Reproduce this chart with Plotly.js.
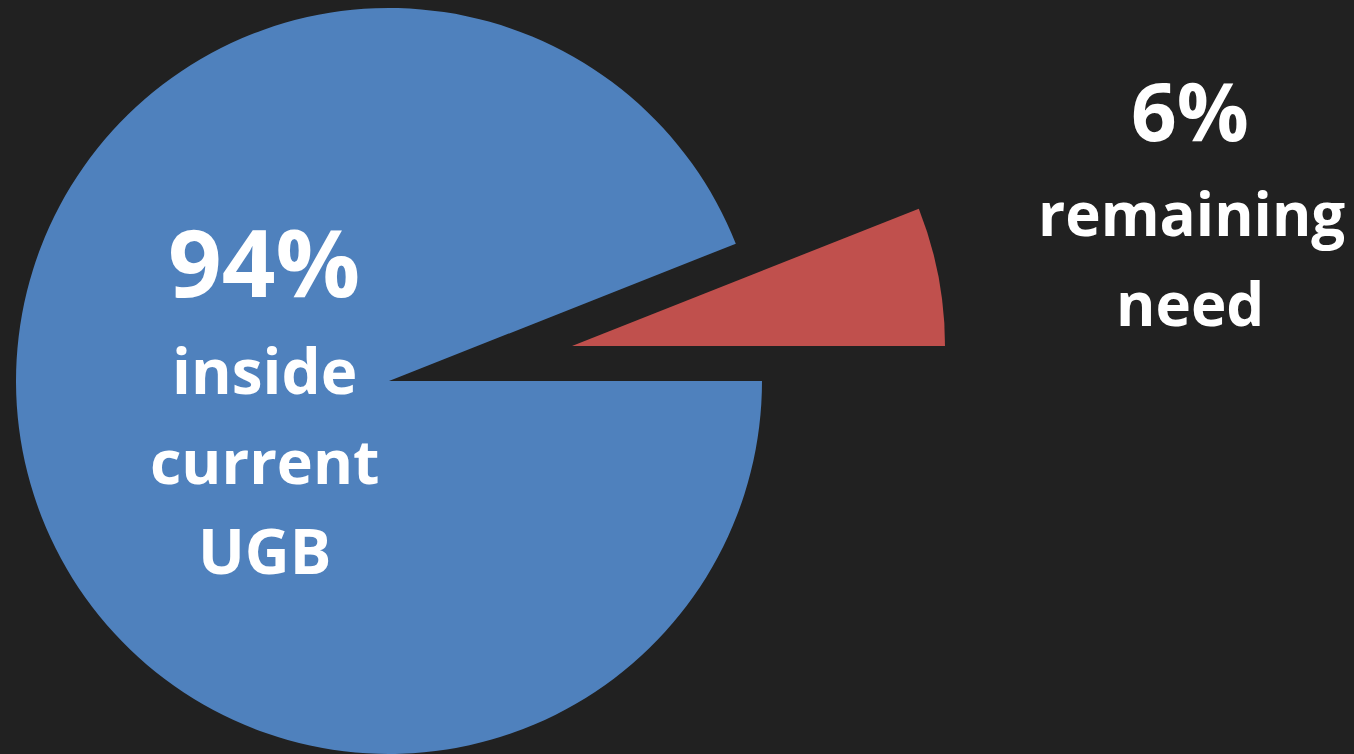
<!DOCTYPE html>
<html>
<head>
<meta charset="utf-8">
<script src="https://cdn.plot.ly/plotly-3.0.1.min.js"></script>
<style>
  html, body { margin: 0; padding: 0; overflow: hidden; background: #212121; width: 1354px; height: 754px; }
  #chart { position: absolute; left: 0; top: -27px; width: 1354px; height: 781px; }
</style>
</head>
<body>
<div id="chart"></div>
<script>
// Data
const categories = ['inside current UGB', 'remaining need'];
const values = [94, 6];
const sliceColors = ['#4F81BD', '#C0504D'];
const bigLabels = ['94%', '6%'];
const smallLabels = [['inside', 'current', 'UGB'], ['remaining', 'need']];

// Layout helpers (pixel geometry of the page)
const W = 1354, H = 781, OFF = 27;
const px = x => x / W;
const py = y => 1 - (y + OFF) / H;
const clear = 'rgba(0,0,0,0)';

// Main (blue) pie, the pulled-out slice left empty
const mainTrace = {
  type: 'pie', labels: categories, values: values, sort: false,
  direction: 'counterclockwise', rotation: 90,
  marker: { colors: [sliceColors[0], clear], line: { width: 0 } },
  textinfo: 'none', hoverinfo: 'skip', showlegend: false,
  domain: { x: [px(16), px(762)], y: [py(754), py(8)] }
};
// Exploded (red) slice drawn as its own pie, shifted outward
const pulledTrace = {
  type: 'pie', labels: categories, values: values, sort: false,
  direction: 'counterclockwise', rotation: 90,
  marker: { colors: [clear, sliceColors[1]], line: { width: 0 } },
  textinfo: 'none', hoverinfo: 'skip', showlegend: false,
  domain: { x: [px(199), px(945)], y: [py(719), py(-27)] }
};

const font = 'Open Sans, Noto Sans, sans-serif';
function ann(text, x, y, size) {
  return { text: '<b>' + text + '</b>', x: px(x), y: py(y), xref: 'paper', yref: 'paper',
    xanchor: 'center', yanchor: 'middle', showarrow: false,
    font: { family: font, size: size, color: '#FFFFFF' } };
}
const annotations = [
  ann(bigLabels[0], 264, 261, 94),
  ann(smallLabels[0][0], 264, 370, 62),
  ann(smallLabels[0][1], 264, 460, 61),
  ann(smallLabels[0][2], 264, 550, 62),
  ann(bigLabels[1], 1190, 109, 80),
  ann(smallLabels[1][0], 1191, 213, 60),
  ann(smallLabels[1][1], 1190, 303, 60)
];

Plotly.newPlot('chart', [mainTrace, pulledTrace], {
  width: W, height: H,
  margin: { l: 0, r: 0, t: 0, b: 0 },
  paper_bgcolor: '#212121', plot_bgcolor: '#212121',
  showlegend: false,
  annotations: annotations
}, { staticPlot: true, displayModeBar: false });
</script>
</body>
</html>
